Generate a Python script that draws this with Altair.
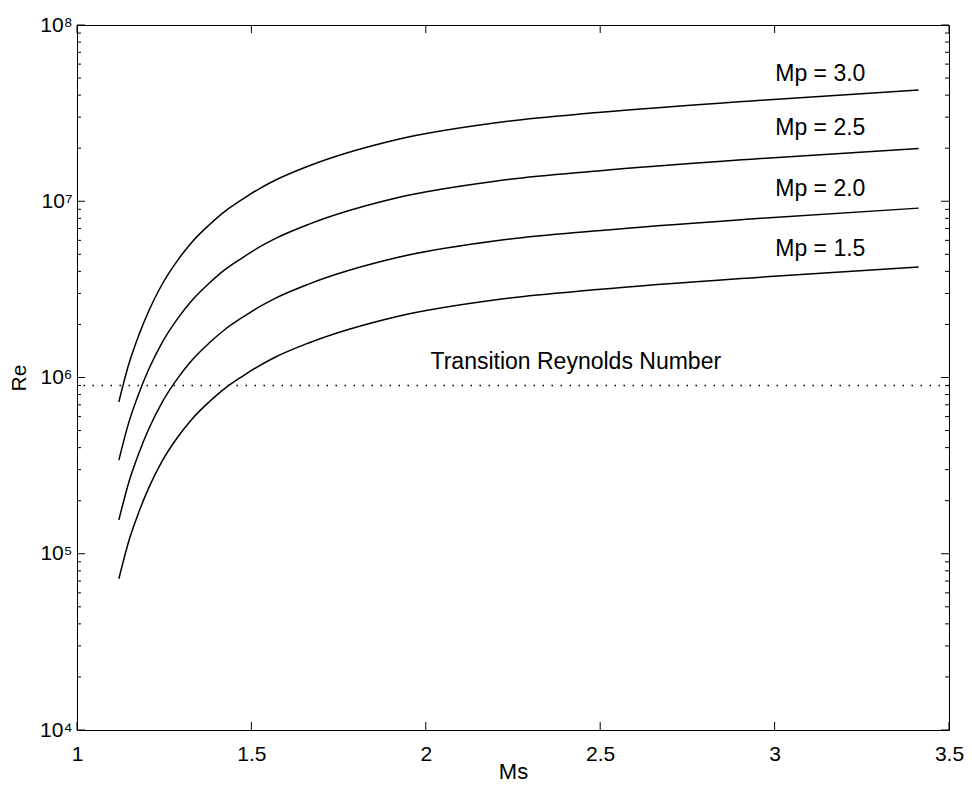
import altair as alt
import pandas as pd

# ---- data ----
ms_grid = [1.120, 1.149, 1.177, 1.206, 1.244, 1.290, 1.330, 1.378, 1.425, 1.473,
           1.521, 1.568, 1.664, 1.921, 2.207, 2.493, 2.951, 3.413]

re_15 = [7.21e4, 1.189e5, 1.718e5, 2.371e5, 3.350e5, 4.624e5, 5.821e5, 7.244e5, 8.710e5, 1.012e6,
         1.161e6, 1.303e6, 1.570e6, 2.228e6, 2.773e6, 3.155e6, 3.698e6, 4.236e6]
re_20 = [1.556e5, 2.564e5, 3.707e5, 5.117e5, 7.228e5, 9.977e5, 1.256e6, 1.563e6, 1.879e6, 2.183e6,
         2.506e6, 2.812e6, 3.388e6, 4.808e6, 5.984e6, 6.808e6, 7.980e6, 9.141e6]
re_25 = [3.396e5, 5.598e5, 8.091e5, 1.117e6, 1.578e6, 2.178e6, 2.742e6, 3.412e6, 4.102e6, 4.764e6,
         5.470e6, 6.138e6, 7.396e6, 1.050e7, 1.306e7, 1.486e7, 1.742e7, 1.995e7]
re_30 = [7.278e5, 1.200e6, 1.734e6, 2.393e6, 3.381e6, 4.667e6, 5.875e6, 7.311e6, 8.790e6, 1.021e7,
         1.172e7, 1.315e7, 1.585e7, 2.249e7, 2.799e7, 3.184e7, 3.733e7, 4.276e7]

transition_re = 9.0e5
transition_text = "Transition Reynolds Number"
transition_ms = 2.43
transition_text_re = 1.22e6

label_text = ["Mp = 3.0", "Mp = 2.5", "Mp = 2.0", "Mp = 1.5"]
label_ms = [3.131, 3.131, 3.131, 3.131]
label_re = [5.3e7, 2.59e7, 1.175e7, 5.36e6]

x_ticks = [1, 1.5, 2, 2.5, 3, 3.5]
y_major = [1e4, 1e5, 1e6, 1e7, 1e8]
y_minor = [m * 10 ** k for k in range(4, 8) for m in range(2, 10)]

# ---- layout / style ----
W, H = 872, 705
FONT = "Liberation Sans"
BLACK = "#000000"

rows = []
for mp, ys_ in [("1.5", re_15), ("2.0", re_20), ("2.5", re_25), ("3.0", re_30)]:
    for i, (a, b) in enumerate(zip(ms_grid, ys_)):
        rows.append({"Mp": mp, "Ms": a, "Re": b, "i": i})
curves_df = pd.DataFrame(rows)

xs = alt.Scale(domain=[1, 3.5], nice=False, zero=False)
ys = alt.Scale(type="log", domain=[1e4, 1e8], nice=False)

x_axis = alt.Axis(
    values=x_ticks, format="~g", ticks=False, domain=False, grid=False,
    labelFont=FONT, labelFontSize=21, labelPadding=13, labelFlush=False,
    labelOverlap=False, labelColor=BLACK,
    title="Ms", titleFont=FONT, titleFontSize=22, titleFontWeight="normal",
    titleColor=BLACK, titleX=W / 2, titleY=48, titleBaseline="alphabetic",
    titleAlign="center",
)
y_axis = alt.Axis(
    values=y_major, ticks=False, domain=False, grid=False,
    labelExpr="'10' + ['\u2070','\u00b9','\u00b2','\u00b3','\u2074','\u2075','\u2076','\u2077','\u2078'][round(log(datum.value)/LN10)]",
    labelFont=FONT, labelFontSize=21, labelPadding=5, labelColor=BLACK,
    labelOverlap=False, labelFlush=False,
    title="Re", titleFont=FONT, titleFontSize=21, titleFontWeight="normal",
    titleColor=BLACK, titleX=-58, titleY=H / 2, titleAngle=270,
    titleBaseline="middle", titleAlign="center",
)

curves = alt.Chart(curves_df).mark_line(
    color=BLACK, strokeWidth=1.5, interpolate="monotone"
).encode(
    x=alt.X("Ms:Q", scale=xs, axis=x_axis),
    y=alt.Y("Re:Q", scale=ys, axis=y_axis),
    detail="Mp:N",
    order="i:Q",
)

trans = alt.Chart(pd.DataFrame({"Re": [transition_re]})).mark_rule(
    color=BLACK, strokeWidth=1.5, strokeDash=[1.5, 7.5]
).encode(y=alt.Y("Re:Q", scale=ys))

trans_lbl = alt.Chart(pd.DataFrame({"Ms": [transition_ms], "Re": [transition_text_re], "t": [transition_text]})).mark_text(
    font=FONT, fontSize=23, color=BLACK, align="center", baseline="middle"
).encode(
    x=alt.X("Ms:Q", scale=xs),
    y=alt.Y("Re:Q", scale=ys),
    text="t:N",
)

mp_lbl = alt.Chart(pd.DataFrame({"Ms": label_ms, "Re": label_re, "t": label_text})).mark_text(
    font=FONT, fontSize=23, color=BLACK, align="center", baseline="middle"
).encode(
    x=alt.X("Ms:Q", scale=xs),
    y=alt.Y("Re:Q", scale=ys),
    text="t:N",
)

xt_df = pd.DataFrame({"Ms": x_ticks})
ymaj_df = pd.DataFrame({"Re": y_major})
ymin_df = pd.DataFrame({"Re": y_minor})

def xtick(y0, y1):
    return alt.Chart(xt_df).mark_rule(color=BLACK, strokeWidth=1).encode(
        x=alt.X("Ms:Q", scale=xs), y=alt.value(y0), y2=alt.value(y1))

def ytick(df, x0, x1):
    return alt.Chart(df).mark_rule(color=BLACK, strokeWidth=1).encode(
        y=alt.Y("Re:Q", scale=ys), x=alt.value(x0), x2=alt.value(x1))

chart = alt.layer(
    curves, trans, trans_lbl, mp_lbl,
    xtick(H, H - 8), xtick(0, 8),
    ytick(ymaj_df, 0, 8), ytick(ymaj_df, W, W - 8),
    ytick(ymin_df, 0, 4), ytick(ymin_df, W, W - 4),
).properties(
    width=W, height=H,
    autosize=alt.AutoSizeParams(type="none"),
    padding={"left": 69, "top": 17, "right": 15, "bottom": 52},
    background="white",
).configure_view(stroke=BLACK, strokeWidth=1)

chart.save("out.html", embed_options={"renderer": "svg", "actions": False})
